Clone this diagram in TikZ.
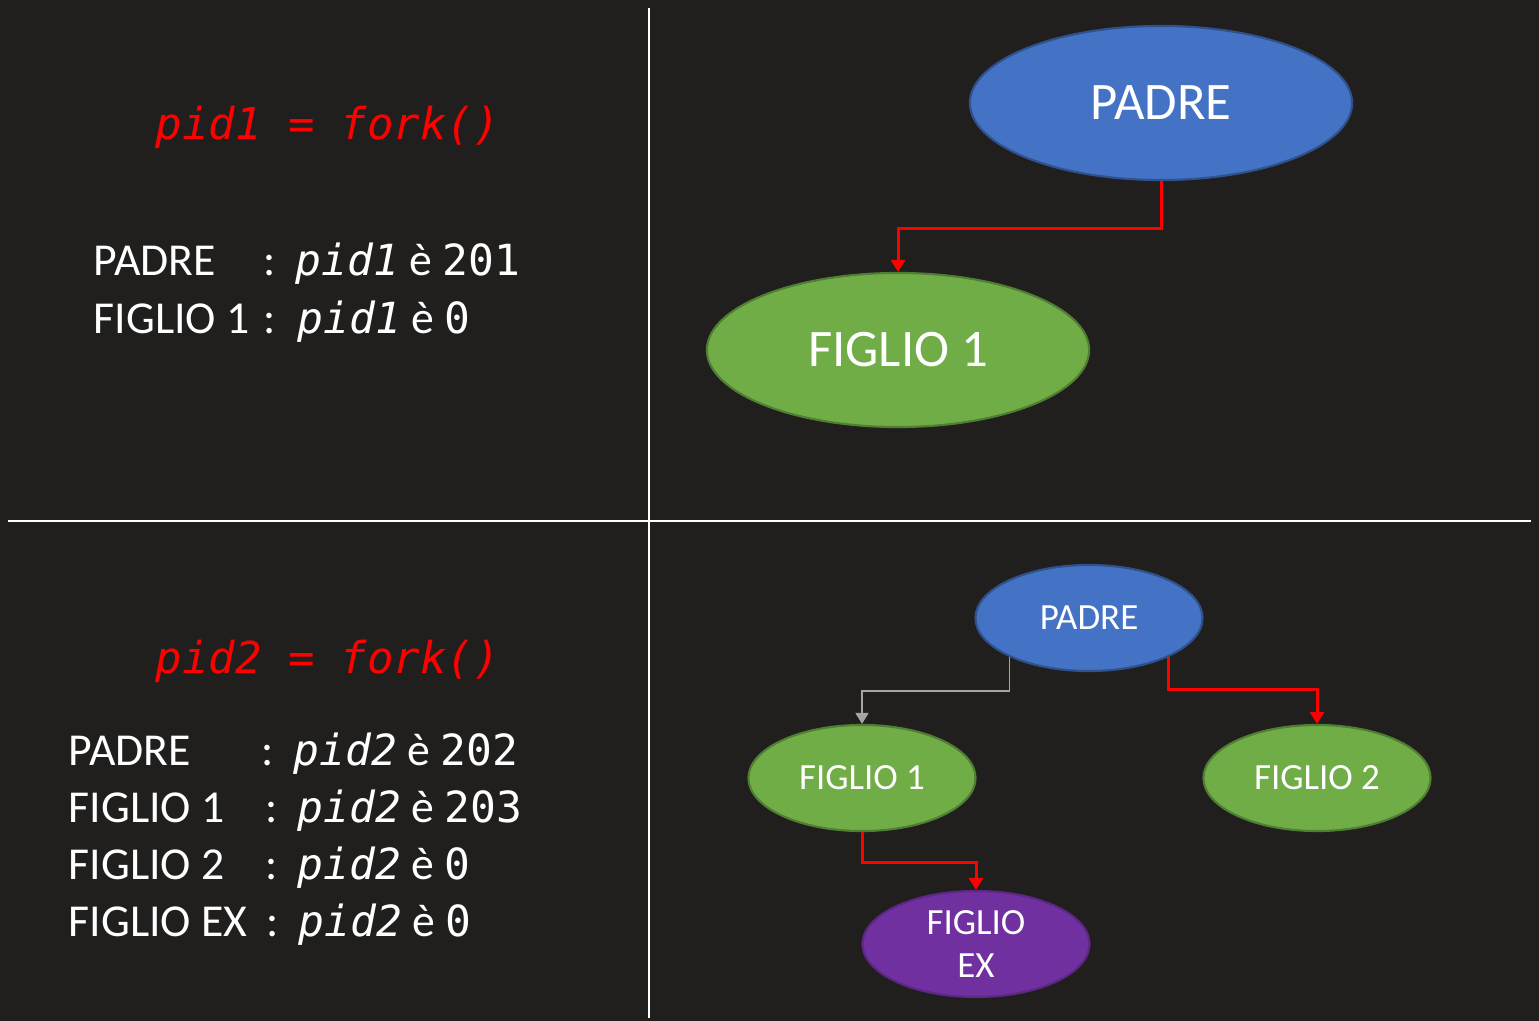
\documentclass[tikz,border=0pt]{standalone}
\usepackage{fontspec}
\setmainfont{Carlito}
\newfontfamily\pidfont{DejaVu Sans Mono}
\usepackage{tikz}
\usetikzlibrary{arrows.meta}
\usetikzlibrary{shapes.geometric}
\usetikzlibrary{positioning}

\definecolor{bgDark}{HTML}{201F1E}
\definecolor{padreBlue}{HTML}{4472C4}
\definecolor{padreBorder}{HTML}{2F528F}
\definecolor{figlioGreen}{HTML}{70AD47}
\definecolor{figlioBorder}{HTML}{507E32}
\definecolor{exPurple}{HTML}{7030A0}
\definecolor{exBorder}{HTML}{5C2786}
\definecolor{linkGray}{HTML}{A5A5A5}

\newcommand{\pidit}[1]{{\pidfont\itshape\fontsize{12.2}{15}\selectfont #1}}
\newcommand{\pidup}[1]{{\pidfont\fontsize{12.2}{15}\selectfont #1}}

\begin{document}
\begin{tikzpicture}[x=0.01cm, y=-0.01cm]
            % Set styles
            \tikzset{
                bigPadre/.style={
                        ellipse,
                        draw=padreBorder,
                        fill=padreBlue,
                        line width=0.6pt,
                        text=white,
                        minimum width=3.82cm,
                        minimum height=1.54cm,
                        font=\fontsize{15}{18}\selectfont
                    }
            }
            \tikzset{
                bigFiglio/.style={
                        bigPadre,
                        draw=figlioBorder,
                        fill=figlioGreen
                    }
            }
            \tikzset{
                smallPadre/.style={
                        ellipse,
                        draw=padreBorder,
                        fill=padreBlue,
                        line width=0.6pt,
                        text=white,
                        minimum width=2.27cm,
                        minimum height=1.06cm,
                        font=\fontsize{10.5}{12.5}\selectfont
                    }
            }
            \tikzset{
                smallFiglio/.style={
                        smallPadre,
                        draw=figlioBorder,
                        fill=figlioGreen
                    }
            }
            \tikzset{
                smallEx/.style={
                        smallPadre,
                        draw=exBorder,
                        fill=exPurple
                    }
            }
            \tikzset{
                exText/.style={
                        align=center,
                        inner sep=0pt,
                        text=white,
                        font=\fontsize{10.5}{12.5}\selectfont
                    }
            }
            \tikzset{
                forkText/.style={
                        anchor=base west,
                        inner sep=0pt,
                        text=red,
                        font=\pidfont\itshape\fontsize{12.5}{14}\selectfont
                    }
            }
            \tikzset{
                rowText/.style={
                        anchor=base west,
                        inner sep=0pt,
                        text=white,
                        font=\fontsize{13}{15}\selectfont
                    }
            }
            \tikzset{
                redArrow/.style={
                        red,
                        line width=0.85pt,
                        -{Triangle[width=0.14cm,length=0.12cm]}
                    }
            }
            \tikzset{
                grayArrow/.style={
                        linkGray,
                        line width=0.45pt,
                        -{Triangle[width=0.13cm,length=0.11cm]}
                    }
            }
            % Background and frame
            \fill[bgDark] (0,0) rectangle (1539,1021);
            \useasboundingbox (0,0) rectangle (1539,1021);
            \draw[white, line width=0.5pt] (649,8) -- (649,1018);
            \draw[white, line width=0.5pt] (8,521) -- (1531,521);
            % First fork: text
            \node[forkText](forkA) at (155,139){pid1 = fork()};
            \node[rowText](namePadreA) at (93,275){PADRE};
            \node[rowText](valPadreA) at (263,275){:\hspace{0.2cm}\pidit{pid1}\ è\ \pidup{201}};
            \node[rowText](nameFiglioA) at (93,333){FIGLIO 1};
            \node[rowText](valFiglioA) at (263,333){:\hspace{0.22cm}\pidit{pid1}\ è\ \pidup{0}};
            % First fork: tree
            \node[bigPadre](padreA) at (1161,103){PADRE};
            \node[bigFiglio](figlioA) at (898,350){FIGLIO 1};
            \draw[redArrow](padreA.south) -- ++(0,47) -| (figlioA.north);
            % Second fork: text
            \node[forkText](forkB) at (155,673){pid2 = fork()};
            \node[rowText](namePadreB) at (68,765){PADRE};
            \node[rowText](valPadreB) at (261,765){:\hspace{0.2cm}\pidit{pid2}\ è\ \pidup{202}};
            \node[rowText](nameFiglioB) at (68,822){FIGLIO 1};
            \node[rowText](valFiglioB) at (265,822){:\hspace{0.2cm}\pidit{pid2}\ è\ \pidup{203}};
            \node[rowText](nameFiglioC) at (68,879){FIGLIO 2};
            \node[rowText](valFiglioC) at (265,879){:\hspace{0.2cm}\pidit{pid2}\ è\ \pidup{0}};
            \node[rowText](nameFiglioEx) at (68,936){FIGLIO EX};
            \node[rowText](valFiglioEx) at (266,936){:\hspace{0.2cm}\pidit{pid2}\ è\ \pidup{0}};
            % Second fork: tree
            \node[smallPadre](padreB) at (1089,618){PADRE};
            \node[smallFiglio](figlioB) at (862,778){FIGLIO 1};
            \node[smallFiglio](figlioC) at (1317,778){FIGLIO 2};
            \node[smallEx](figlioEx) at (976,944){};
            \node[exText](figlioExText) at (figlioEx.center){FIGLIO\\EX};
            \draw[grayArrow](padreB.206) -- ++(0,34) -| (figlioB.north);
            \draw[redArrow](padreB.334) -- ++(0,33) -| (figlioC.north);
            \draw[redArrow](figlioB.south) -- ++(0,30) -| (figlioEx.north);
        \end{tikzpicture}
\end{document}
